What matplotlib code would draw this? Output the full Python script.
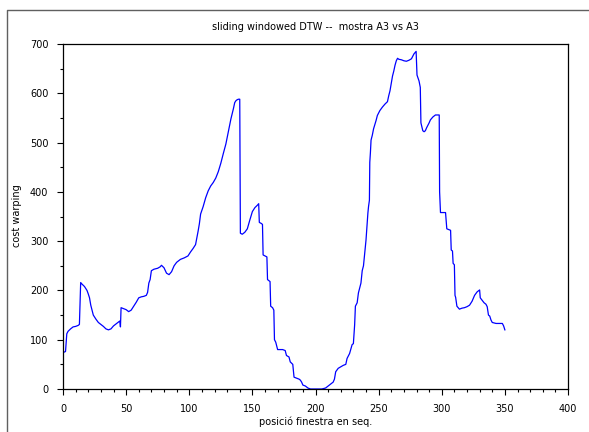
import matplotlib
matplotlib.use("Agg")
import matplotlib.pyplot as plt
from matplotlib.lines import Line2D
from matplotlib.ticker import MultipleLocator

# window position and warping cost along the sequence
pos = [1, 2, 3, 4, 6, 8, 10, 12, 13, 14, 15, 17, 19, 20, 21, 22, 23, 24, 26, 28,
       30, 32, 34, 36, 38, 40, 42, 44, 45, 45.5, 46, 48, 50, 52, 54, 56, 58, 60, 62, 64,
       66, 67, 68, 69, 70, 72, 75, 77, 78, 80, 82, 84, 86, 88, 90, 93, 96, 99, 101, 103,
       105, 107, 108, 109, 111, 113, 115, 117, 119, 121, 123, 125, 127, 129, 131, 133, 135, 136, 137, 138,
       139, 140, 140.5, 142, 144, 146, 148, 150, 152, 154, 155, 155.5, 157, 158, 158.5, 160, 161.5, 162, 163, 164,
       164.5, 166, 167, 167.5, 168.5, 169.5, 170, 172, 174, 176, 177, 179, 180, 182, 183, 185, 187, 188, 189, 190,
       192, 194, 196, 205, 208, 210, 212, 214, 215, 216, 218, 220, 222, 224, 225, 227, 229, 230, 231, 231.6,
       233, 234, 235, 236, 237, 238, 238.7, 239.5, 240, 241, 241.5, 242, 242.7, 243, 243.5, 244, 245, 246, 248, 249,
       251, 253, 255, 257, 258, 259, 260, 261, 262, 263, 264, 265, 266, 268, 270, 272, 274, 276, 277, 278,
       279, 279.7, 280.4, 282, 283, 283.5, 285, 286, 287, 288, 290, 291, 293, 295, 297, 298, 298.3, 299, 301, 303,
       304, 306, 307, 307.5, 308.5, 309, 310, 310.5, 311, 312, 314, 316, 318, 320, 322, 324, 326, 328, 329, 330,
       330.5, 332, 333.5, 335, 336, 337, 338, 339, 340, 343, 346, 348, 349, 350]
cost = [75, 76, 112, 117, 122, 126, 127, 129, 131, 216, 213, 208, 200, 193, 185, 170, 160, 150, 142, 135,
        131, 127, 122, 120, 122, 128, 132, 136, 138, 126, 165, 163, 161, 157, 160, 168, 176, 185, 187, 188,
        190, 196, 215, 222, 240, 243, 245, 248, 251, 246, 235, 232, 238, 250, 257, 263, 266, 270, 278, 285,
        293, 320, 335, 355, 370, 388, 402, 412, 419, 428, 441, 458, 478, 497, 523, 548, 569, 581, 585, 587,
        588, 588, 316, 314, 318, 325, 343, 360, 368, 373, 376, 338, 336, 334, 272, 270, 268, 222, 220, 218,
        168, 165, 160, 100, 95, 85, 80, 80, 80, 78, 68, 65, 55, 50, 24, 22, 20, 18, 14, 8,
        6, 2, 0, 0, 2, 6, 10, 14, 20, 35, 42, 45, 48, 50, 62, 72, 90, 92, 130, 168,
        175, 195, 205, 215, 240, 250, 268, 290, 302, 340, 357, 370, 383, 460, 480, 505, 515, 528, 545, 555,
        565, 572, 578, 583, 595, 605, 620, 635, 645, 657, 666, 671, 669, 668, 666, 665, 667, 670, 675, 680,
        683, 685, 637, 625, 612, 540, 524, 522, 524, 530, 540, 546, 552, 556, 556, 556, 400, 358, 358, 358,
        325, 323, 322, 282, 280, 255, 252, 190, 186, 168, 162, 164, 165, 167, 170, 178, 190, 197, 199, 201,
        185, 180, 175, 172, 167, 150, 148, 140, 135, 133, 133, 133, 128, 120]

title = "sliding windowed DTW --  mostra A3 vs A3"
xlabel = "posició finestra en seq."
ylabel = "cost warping"

W, H = 589, 432
fig = plt.figure(figsize=(W / 100, H / 100), dpi=100)
fig.patch.set_facecolor("white")

# outer frame of the graphic window (top and left edges only show)
fx, fy = 7 / W, 1 - 10 / H
fig.add_artist(Line2D([fx, fx, 1.0], [0.0, fy, fy], transform=fig.transFigure,
                      color="#606060", linewidth=1.0))

ax = fig.add_axes([63 / W, (H - 389) / H, (568 - 63) / W, (389 - 44) / H])
ax.plot(pos, cost, color="#0000ff", linewidth=0.9, clip_on=False)

ax.set_xlim(0, 400)
ax.set_ylim(0, 700)
ax.xaxis.set_major_locator(MultipleLocator(50))
ax.xaxis.set_minor_locator(MultipleLocator(10))
ax.yaxis.set_major_locator(MultipleLocator(100))
ax.yaxis.set_minor_locator(MultipleLocator(50))
ax.tick_params(which="major", direction="out", length=4.5, width=0.8,
               labelsize=7, pad=6, colors="black")
ax.tick_params(which="minor", direction="out", length=2.5, width=0.8)
for s in ax.spines.values():
    s.set_linewidth(0.9)
    s.set_color("black")

fig.text(315.5 / W, 1 - 27 / H, title, ha="center", va="center", fontsize=7)
fig.text(315.5 / W, 1 - 422 / H, xlabel, ha="center", va="center", fontsize=7)
fig.text(17 / W, 1 - 216 / H, ylabel, ha="center", va="center", rotation=90, fontsize=7)

fig.savefig("out.png", dpi=100)
